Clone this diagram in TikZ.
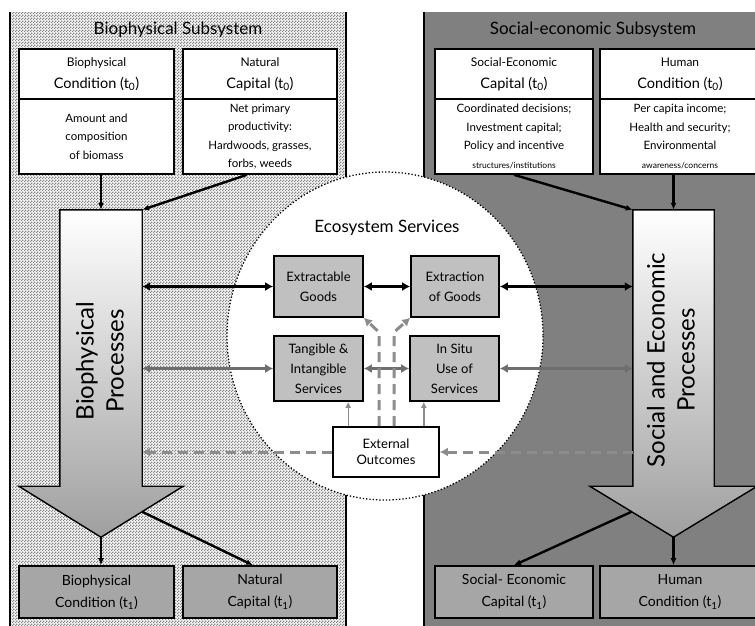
\documentclass[tikz,border=0pt]{standalone}
\usepackage{fontspec}
\setmainfont{Lato}
\usetikzlibrary{arrows.meta, calc, patterns}
\definecolor{socgray}{HTML}{808080}
\definecolor{servgray}{HTML}{C0C0C0}
\definecolor{outgray}{HTML}{A6A6A6}
\definecolor{flowgray}{HTML}{6E6E6E}
\definecolor{dashgray}{HTML}{8C8C8C}

% fine dither for the biophysical panel
\pgfdeclarepatternformonly{finecheck}{\pgfqpoint{0pt}{0pt}}{\pgfqpoint{3pt}{3pt}}{\pgfqpoint{3pt}{3pt}}{%
  \pgfpathrectangle{\pgfqpoint{0pt}{0pt}}{\pgfqpoint{1.5pt}{1.5pt}}%
  \pgfpathrectangle{\pgfqpoint{1.5pt}{1.5pt}}{\pgfqpoint{1.5pt}{1.5pt}}%
  \pgfusepath{fill}}

\begin{document}
\begin{tikzpicture}[
    x=1pt, y=-1pt,
    arr/.style={-{Latex[length=7pt,width=6pt]}, line width=2.4pt, black},
    bi/.style={{Latex[length=8pt,width=9pt]}-{Latex[length=8pt,width=9pt]}, line width=3pt, black},
    gbi/.style={bi, flowgray},
    dsh/.style={-{Latex[length=8pt,width=9pt]}, line width=3pt, dashgray,
                dash pattern=on 10pt off 6pt},
    thinarr/.style={-{Latex[length=6pt,width=6pt]}, line width=1.4pt, dashgray},
    % Top cards: header + body
    cardhead/.style={draw, line width=1.6pt, fill=white, align=center, inner sep=2pt,
                     minimum height=50, font=\fontsize{14.5}{22}\selectfont},
    cardbody/.style={draw, line width=1.6pt, fill=white, align=center, inner sep=2pt,
                     minimum height=75, font=\fontsize{11.5}{18.5}\selectfont},
    % Service boxes
    serv/.style={draw, line width=1.6pt, fill=servgray, align=center, inner sep=1pt,
                 font=\fontsize{13}{20}\selectfont},
    % Outcome boxes at t1
    outbox/.style={draw, line width=1.6pt, fill=outgray, align=center,
                   minimum height=52, font=\fontsize{14}{22}\selectfont},
    bigarrow/.style={draw, line width=1.4pt, top color=white, bottom color=gray!75},
    title/.style={font=\fontsize{17}{20}\selectfont},
]
\useasboundingbox (0,0) rectangle (755,625);
\clip (0,0) rectangle (755,625);

% ========== Panels ==========
\fill[white!92!gray] (10,12) rectangle (346,630);
\fill[pattern=finecheck, pattern color=gray!95] (10,12) rectangle (346,630);
\draw[line width=1.6pt] (10,12) -- (10,630);
\draw[line width=1.6pt] (346,12) -- (346,630);

\fill[socgray] (424,12) rectangle (760,630);
\draw[line width=1.6pt] (424,12) -- (424,630);

% ecosystem services circle
\draw[dotted, line width=1.3pt, fill=white] (385,336) ellipse [x radius=158, y radius=164];

% ========== Titles ==========
\node[title] (bioTitle) at (178,30) {Biophysical Subsystem};
\node[title] (socTitle) at (593,30) {Social-economic Subsystem};
\node[title] (essTitle) at (387,228) {Ecosystem Services};

% ========== Top cards (t0) ==========
\node[cardhead, minimum width=155] (bcHead) at (96.5,74)
    {{\fontsize{12}{22}\selectfont Biophysical}\\Condition (t\textsubscript{0})};
\node[cardbody, minimum width=155] (bcBody) at (96.5,136.5)
    {Amount and\\composition\\of biomass};

\node[cardhead, minimum width=154] (ncHead) at (260,74)
    {{\fontsize{12}{22}\selectfont Natural}\\Capital (t\textsubscript{0})};
\node[cardbody, minimum width=154] (ncBody) at (260,136.5)
    {Net primary\\productivity:\\Hardwoods, grasses,\\forbs, weeds};

\node[cardhead, minimum width=158] (scHead) at (514,74)
    {{\fontsize{12}{22}\selectfont Social-Economic}\\Capital (t\textsubscript{0})};
\node[cardbody, minimum width=158] (scBody) at (514,136.5)
    {Coordinated decisions;\\Investment capital;\\Policy and incentive\\{\fontsize{8.5}{10}\selectfont structures/institutions}};

\node[cardhead, minimum width=160] (hcHead) at (680,74)
    {{\fontsize{12}{22}\selectfont Human}\\Condition (t\textsubscript{0})};
\node[cardbody, minimum width=160] (hcBody) at (680,136.5)
    {Per capita income;\\Health and security;\\Environmental\\{\fontsize{8.5}{10}\selectfont awareness/concerns}};

% ========== Big process arrows ==========
% --- Biophysical ---
\node[minimum width=82, minimum height=276, inner sep=0] (bpShaft) at (101,348) {};
\coordinate (bpTip) at ($(bpShaft.south)+(0,51)$);
\coordinate (bpWingR) at ($(bpShaft.south east)+(41,0)$);
\coordinate (bpWingL) at ($(bpShaft.south west)+(-41,0)$);
\path[bigarrow] (bpShaft.north west) -- (bpShaft.north east) -- (bpShaft.south east)
    -- (bpWingR) -- (bpTip) -- (bpWingL) -- (bpShaft.south west) -- cycle;
\node[rotate=90, align=center, font=\fontsize{24}{30}\selectfont] (bpText) at (100,361)
    {Biophysical\\Processes};

% --- Social and economic ---
\node[minimum width=81, minimum height=276, inner sep=0] (spShaft) at (673.5,348) {};
\coordinate (spTip) at ($(spShaft.south)+(0,51)$);
\coordinate (spWingR) at ($(spShaft.south east)+(43,0)$);
\coordinate (spWingL) at ($(spShaft.south west)+(-43,0)$);
\path[bigarrow] (spShaft.north west) -- (spShaft.north east) -- (spShaft.south east)
    -- (spWingR) -- (spTip) -- (spWingL) -- (spShaft.south west) -- cycle;
\node[rotate=90, align=center, font=\fontsize{24}{30}\selectfont] (spText) at (671,360)
    {Social and Economic\\Processes};

% ========== Service boxes ==========
\node[serv, minimum width=89, minimum height=61] (egBox) at (318.5,286.5) {Extractable\\Goods};
\node[serv, minimum width=88, minimum height=61] (xgBox) at (455,286.5) {Extraction\\of Goods};
\node[serv, minimum width=89, minimum height=65] (tiBox) at (318.5,368.5) {Tangible \&\\Intangible\\Services};
\node[serv, minimum width=89, minimum height=65] (isBox) at (454.5,368.5) {In Situ\\Use of\\Services};
\node[draw, line width=1.6pt, fill=white, align=center, minimum width=106, minimum height=50,
      inner sep=1pt, font=\fontsize{13}{16}\selectfont] (eoBox) at (386,452) {External\\Outcomes};

% ========== Outcome boxes (t1) ==========
\node[outbox, minimum width=155] (bcOut) at (96.5,592) {Biophysical\\Condition (t\textsubscript{1})};
\node[outbox, minimum width=154] (ncOut) at (260,592) {Natural\\Capital (t\textsubscript{1})};
\node[outbox, minimum width=158] (scOut) at (514,592) {Social- Economic\\Capital (t\textsubscript{1})};
\node[outbox, minimum width=160] (hcOut) at (680,592) {Human\\Condition (t\textsubscript{1})};

% ========== Arrows ==========
% t0 cards -> processes
\draw[arr] (bcBody.south -| bpShaft.north) -- (bpShaft.north);
\draw[arr] ($(ncBody.south)+(-13,0)$) -- (bpShaft.north east);
\draw[arr] (scBody.south) -- (spShaft.north west);
\draw[arr] (hcBody.south -| spShaft.north) -- (spShaft.north);

% processes -> t1 outcomes
\draw[arr] (bpTip) -- (bcOut.north -| bpTip);
\draw[arr] ($(bpWingR)!0.5!(bpTip)$) -- ($(ncOut.north)+(-7,0)$);
\draw[arr] (spTip) -- (hcOut.north -| spTip);
\draw[arr] ($(spWingL)!0.5!(spTip)$) -- (scOut.north);

% goods row
\draw[bi] (bpShaft.east |- egBox.west) -- (egBox.west);
\draw[bi] (egBox.east) -- (xgBox.west);
\draw[bi] (xgBox.east) -- (spShaft.west |- xgBox.east);

% services row
\draw[gbi] (bpShaft.east |- tiBox.west) -- (tiBox.west);
\draw[gbi] (tiBox.east) -- (isBox.west);
\draw[gbi] (isBox.east) -- (spShaft.west |- isBox.east);

% external outcomes
\coordinate (eoL) at ($(eoBox.north west)+(16,0)$);
\coordinate (eoR) at ($(eoBox.north east)+(-16,0)$);
\draw[dsh] (eoBox.west) -- (bpShaft.east |- eoBox.west);
\draw[dsh] (spShaft.west |- eoBox.east) -- (eoBox.east);
\draw[thinarr] (eoL) -- (eoL |- tiBox.south);
\draw[thinarr] (eoR) -- (eoR |- isBox.south);
\draw[dsh] ($(eoBox.north)+(-7,0)$) -- ++(0,-94) -- (egBox.south east);
\draw[dsh] ($(eoBox.north)+(8,0)$) -- ++(0,-94) -- (xgBox.south west);

\end{tikzpicture}
\end{document}
